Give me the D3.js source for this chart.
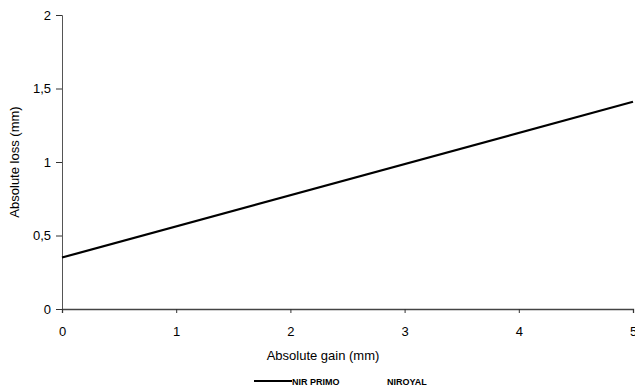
<!DOCTYPE html>
<html>
<head>
<meta charset="utf-8">
<script src="https://cdn.jsdelivr.net/npm/d3@7"></script>
<style>
	body { margin: 0; background: #fff; }
	svg { display: block; font-family: "Liberation Sans", Arial, sans-serif; }
</style>
</head>
<body>
<svg id="chart" width="635" height="388"></svg>
<script>
// Data
const gain = [0, 5];
const nirPrimo = [0.35, 1.41];
const xTicks = [0, 1, 2, 3, 4, 5];
const yTicks = [0, 0.5, 1, 1.5, 2];
const legendNames = ["NIR PRIMO", "NIROYAL"];

const svg = d3.select("#chart");
const margin = { top: 15, right: 2, bottom: 79, left: 62 };
const width = 635 - margin.left - margin.right;
const height = 388 - margin.top - margin.bottom;

const x = d3.scaleLinear().domain([0, 5]).range([0, width]);
const y = d3.scaleLinear().domain([0, 2]).range([height, 0]);
const fmt = d3.format("");
const comma = d => fmt(d).replace(".", ",");

const g = svg.append("g").attr("transform", `translate(${margin.left},${margin.top})`);

// Y axis
const yAxis = g.append("g")
	.call(d3.axisLeft(y).tickValues(yTicks).tickSize(6).tickPadding(5).tickFormat(comma));
yAxis.select(".domain").attr("stroke", "#555");
yAxis.selectAll(".tick line").attr("stroke", "#333");
yAxis.selectAll("text").attr("font-size", 13).attr("fill", "#000").attr("font-family", "Liberation Sans, Arial, sans-serif");

// X axis
const xAxis = g.append("g")
	.attr("transform", `translate(0,${height})`)
	.call(d3.axisBottom(x).tickValues(xTicks).tickSizeOuter(0).tickSize(4).tickPadding(14).tickFormat(comma));
xAxis.select(".domain").attr("stroke", "#444").attr("stroke-width", 1.3);
xAxis.selectAll(".tick line").attr("stroke", "#333");
xAxis.selectAll("text").attr("font-size", 13).attr("fill", "#000").attr("font-family", "Liberation Sans, Arial, sans-serif");

// Line
const line = d3.line()
	.x((d, i) => x(gain[i]))
	.y(d => y(d));
g.append("path")
	.datum(nirPrimo)
	.attr("fill", "none")
	.attr("stroke", "#000")
	.attr("stroke-width", 2.2)
	.attr("d", line);

// Axis titles
svg.append("text")
	.attr("x", 323).attr("y", 360)
	.attr("text-anchor", "middle")
	.attr("font-size", 13)
	.text("Absolute gain (mm)");

svg.append("text")
	.attr("transform", `translate(19,${margin.top + height / 2}) rotate(-90)`)
	.attr("text-anchor", "middle")
	.attr("font-size", 13)
	.text("Absolute loss (mm)");

// Legend
const legend = svg.append("g").attr("font-size", 9).attr("font-weight", "bold");
legend.append("line")
	.attr("x1", 254).attr("x2", 292).attr("y1", 381).attr("y2", 381)
	.attr("stroke", "#000").attr("stroke-width", 2);
legend.append("text").attr("x", 292).attr("y", 384.5).text(legendNames[0]);
legend.append("text").attr("x", 387).attr("y", 384.5).text(legendNames[1]);
</script>
</body>
</html>
